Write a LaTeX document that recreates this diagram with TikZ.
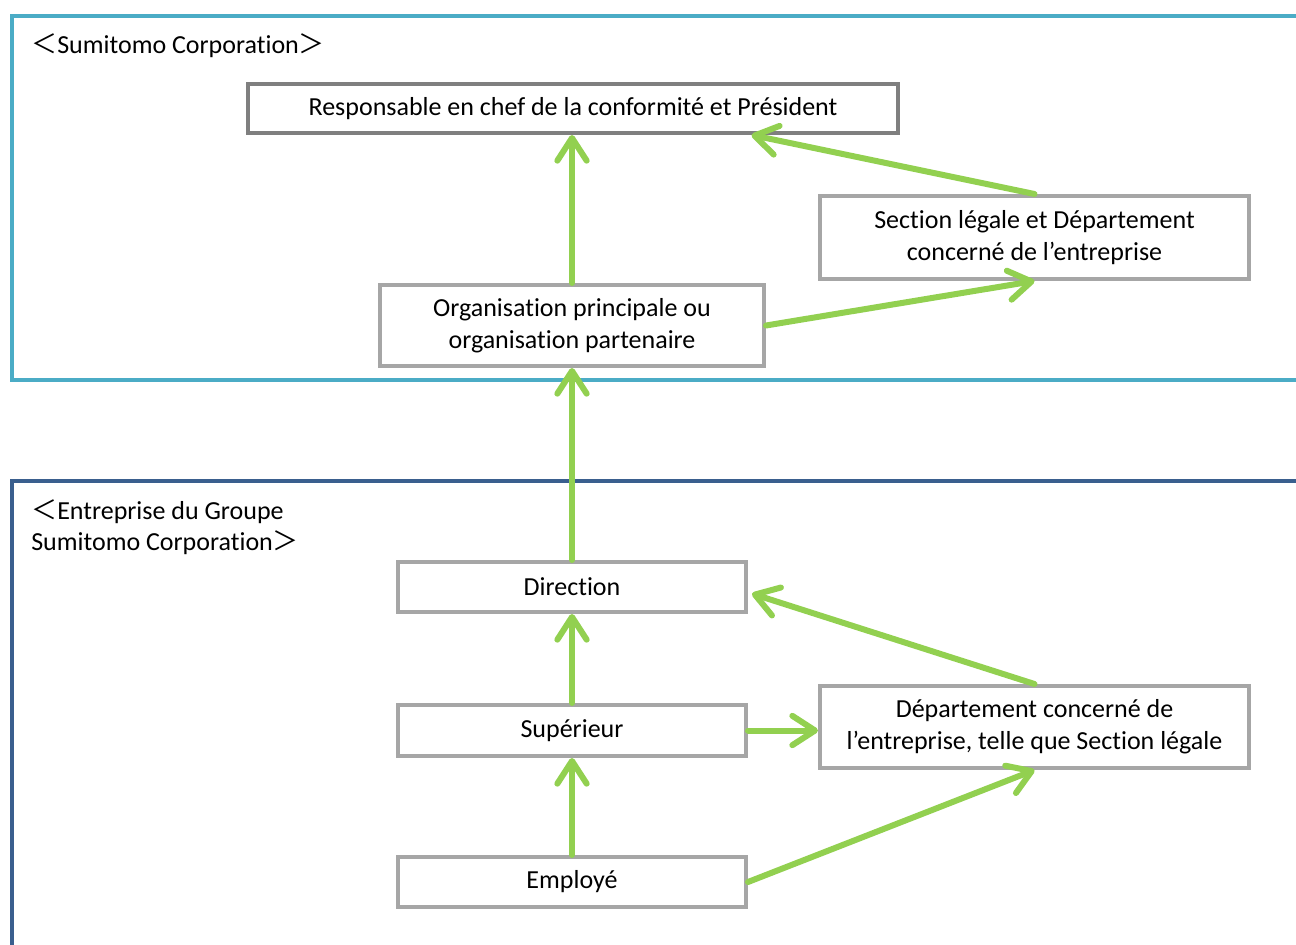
\documentclass[tikz,border=0pt]{standalone}
\usepackage{fontspec}
\setmainfont{Carlito}[Ligatures=NoCommon]
\newfontfamily\cjk{Noto Sans CJK JP}
\usetikzlibrary{arrows.meta,calc}
\definecolor{frameteal}{HTML}{4BACC6}
\definecolor{frameblue}{HTML}{3A5F8E}
\definecolor{boxgray}{HTML}{A6A6A6}
\definecolor{boxdark}{HTML}{7F7F7F}
\definecolor{arrgreen}{HTML}{92D050}
\newcommand{\lbr}{{\cjk ＜}}
\newcommand{\rbr}{{\cjk ＞}}
\tikzset{
  box/.style={draw=boxgray, line width=3pt, fill=white, align=center, inner sep=0pt, font=\fontsize{19.5}{24}\selectfont},
  frame/.style={line width=3pt},
  lbl/.style={anchor=west, align=left, inner sep=0pt, font=\fontsize{19.5}{23.5}\selectfont},
  flow/.style={draw=arrgreen, line width=4.5pt, line cap=round,
    -{Straight Barb[length=17pt, width=22pt, line cap=round, line join=round]}},
}
\begin{document}
\begin{tikzpicture}[x=0.75pt, y=-0.75pt]
\useasboundingbox (0,0) rectangle (1296,945);
% frames
\draw[frame, draw=frameteal] (1305,16) -- (12,16) -- (12,380) -- (1305,380);
\draw[frame, draw=frameblue] (1305,481) -- (12,481) -- (12,955);
\node[lbl] (lab1) at (31,46) {\lbr Sumitomo Corporation\rbr};
\node[lbl] (lab2) at (31,527) {\lbr Entreprise du Groupe\\Sumitomo Corporation\rbr};
% boxes
\node[box, draw=boxdark, minimum width=650*0.75pt, minimum height=49*0.75pt] (resp) at (573,108.5) {Responsable en chef de la conformité et Président};
\node[box, minimum width=429*0.75pt, minimum height=83*0.75pt] (sect) at (1034.5,237.5) {Section légale et Département\\concerné de l’entreprise};
\node[box, minimum width=384*0.75pt, minimum height=81*0.75pt] (org) at (572,325.5) {Organisation principale ou\\organisation partenaire};
\node[box, minimum width=348*0.75pt, minimum height=50*0.75pt] (dir) at (572,587) {Direction};
\node[box, minimum width=348*0.75pt, minimum height=51*0.75pt] (sup) at (572,730.5) {Supérieur};
\node[box, minimum width=429*0.75pt, minimum height=82*0.75pt] (dept) at (1034.5,727) {Département concerné de\\l’entreprise, telle que Section légale};
\node[box, minimum width=348*0.75pt, minimum height=50*0.75pt] (emp) at (572,882) {Employé};
% connectors
\draw[flow] (org.north) -- (org.north |- resp.south);
\draw[flow] (sect.north) -- ($(resp.south west)!0.773!(resp.south east)$);
\draw[flow] (org.east) -- (sect.south);
\draw[flow] (dir.north) -- (org.south);
\draw[flow] (dept.north) -- ([xshift=3pt,yshift=-5pt]dir.east);
\draw[flow] (sup.north) -- (dir.south);
\draw[flow] (sup.east) -- (sup.east -| dept.west);
\draw[flow] (emp.north) -- (sup.south);
\draw[flow] (emp.east) -- (dept.south);
\end{tikzpicture}
\end{document}
